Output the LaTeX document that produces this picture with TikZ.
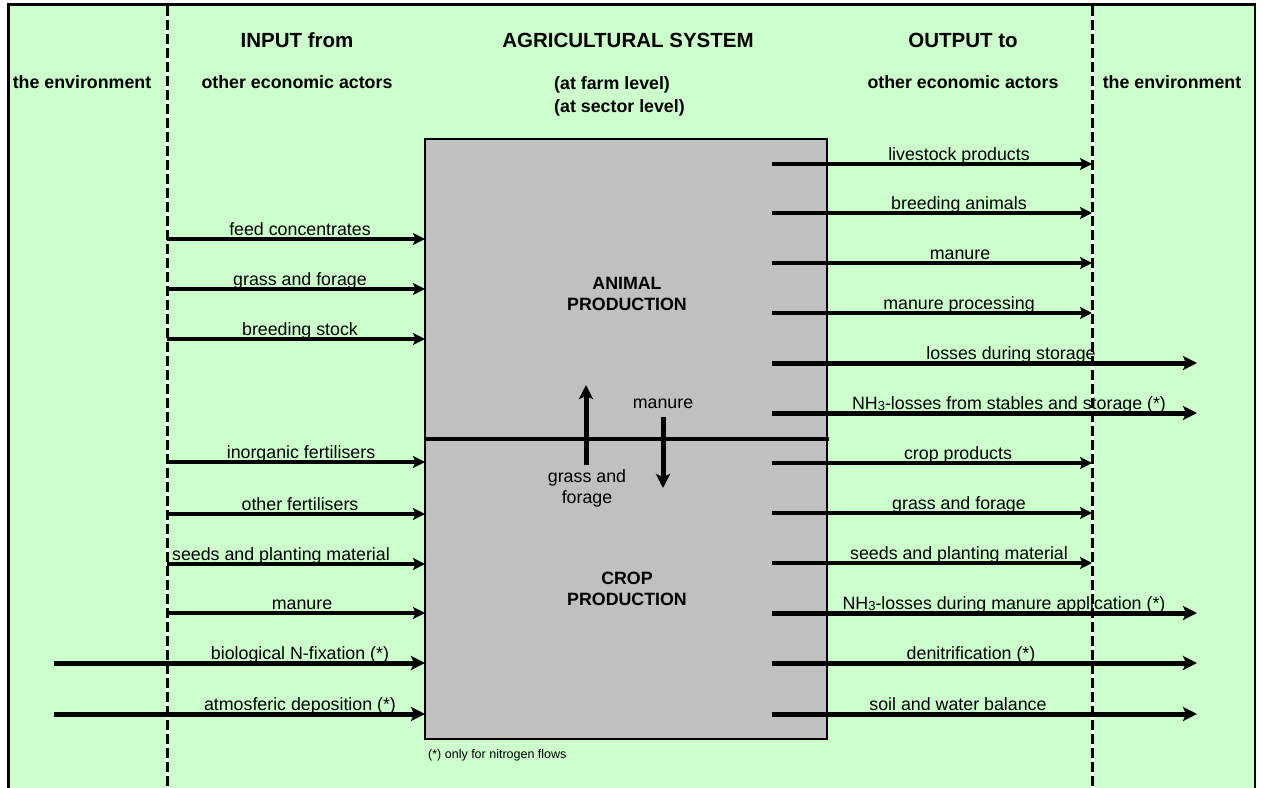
\documentclass[tikz,border=0pt]{standalone}
\usepackage{fontspec}
\setmainfont{Liberation Sans}
\usetikzlibrary{arrows.meta}
\definecolor{bggreen}{HTML}{CCFFCC}
\definecolor{boxgrey}{HTML}{C0C0C0}
\newcommand{\NHthree}{NH\raisebox{-1.5pt}{\fontsize{13}{13}\selectfont 3}}
\tikzset{
  lbl/.style={font=\fontsize{17.8}{20}\selectfont, inner sep=0pt, anchor=base},
  hdr/.style={font=\fontsize{20.5}{24}\selectfont\bfseries, inner sep=0pt},
  sub/.style={font=\fontsize{17.8}{21}\selectfont\bfseries, inner sep=0pt},
  boxlbl/.style={font=\fontsize{17.8}{21}\selectfont\bfseries, inner sep=0pt, align=center},
  note/.style={font=\fontsize{12.5}{14}\selectfont, inner sep=0pt},
  boxst/.style={draw, fill=boxgrey, line width=2.2pt, minimum width=402pt, minimum height=300pt, inner sep=0pt, outer sep=0pt},
  thinarrow/.style={line width=3.3pt, -{Stealth[length=12pt,width=12pt,inset=2.5pt]}},
  thickarrow/.style={line width=5pt, -{Stealth[length=14pt,width=14pt,inset=3pt]}},
}
\begin{document}
\begin{tikzpicture}[x=1pt,y=-1pt]
\useasboundingbox (0,0) rectangle (1263,787);
\clip (0,0) rectangle (1263,787);
\fill[white] (0,0) rectangle (1263,787);
\draw[line width=2.4pt, fill=bggreen] (8.5,4.5) rectangle (1255,800);
% dashed separators
\foreach \x/\n in {167/L,1092/R} {
  \coordinate (d\n t) at (\x,5.5);
  \coordinate (d\n b) at (\x,800);
  \draw[line width=3pt, white] (d\n t) -- (d\n b);
  \draw[line width=3pt, dash pattern=on 10pt off 4pt] (d\n t) -- (d\n b);
}
% headers
\node[hdr] (hin) at (297,40) {INPUT from};
\node[hdr] (hsys) at (628,40) {AGRICULTURAL SYSTEM};
\node[hdr] (hout) at (963,40) {OUTPUT to};
\node[sub] (envL) at (82,82) {the environment};
\node[sub] (ecoL) at (297,82) {other economic actors};
\node[sub] (ecoR) at (963,82) {other economic actors};
\node[sub] (envR) at (1172,82) {the environment};
\node[sub, anchor=west] (farm) at (554,85) {(at farm level)};
\node[sub, anchor=west] (sector) at (554,108) {(at sector level)};
% system boxes
\node[boxst, anchor=north west] (animal) at (425,139) {};
\node[boxst, anchor=north west] (crop) at (425,439) {};
\draw[line width=3.2pt] (animal.south west) -- ([xshift=2pt]animal.south east);
\node[boxlbl] (animallbl) at (627,294) {ANIMAL\\PRODUCTION};
\node[boxlbl] (croplbl) at (627,589) {CROP\\PRODUCTION};
% internal flows
\coordinate (gfs) at (586,465);
\coordinate (gfe) at (586,385);
\draw[thickarrow] (gfs) -- (gfe);
\coordinate (mds) at (663,417);
\coordinate (mde) at (663,488);
\draw[thickarrow] (mds) -- (mde);
\node[lbl, anchor=center, font=\fontsize{17.8}{21}\selectfont] (mlbl) at (663,404) {manure};
\node[lbl, anchor=center, align=center, font=\fontsize{17.8}{21}\selectfont] (gflbl) at (587,488) {grass and\\forage};
% inputs from other economic actors
\foreach \i/\y/\t/\tg/\cx in {1/239/feed concentrates/animal/300,
    2/289/grass and forage/animal/300,
    3/339/breeding stock/animal/300,
    4/462/inorganic fertilisers/crop/301,
    5/514/other fertilisers/crop/300,
    6/564/seeds and planting material/crop/281,
    7/613/manure/crop/302} {
  \coordinate (is\i) at (167,\y);
  \draw[thinarrow] (is\i) -- (is\i -| \tg.west);
  \node[lbl] (il\i) at (\cx,\y-4) {\t};
}
% inputs from the environment
\foreach \i/\y/\t/\cx in {8/663/biological N-fixation (*)/300,
    9/714/atmosferic deposition (*)/300} {
  \coordinate (is\i) at (54,\y);
  \draw[thickarrow] (is\i) -- (is\i -| crop.west);
  \node[lbl] (il\i) at (\cx,\y-4) {\t};
}
% outputs to other economic actors
\foreach \i/\y/\t/\cx in {1/164/livestock products/959,
    2/213/breeding animals/959,
    3/263/manure/960,
    4/313/manure processing/959,
    7/463/crop products/958,
    8/513/grass and forage/959,
    9/563/seeds and planting material/959} {
  \coordinate (os\i) at (772,\y);
  \coordinate (oe\i) at (1092,\y);
  \draw[thinarrow] (os\i) -- (oe\i);
  \node[lbl] (ol\i) at (\cx,\y-4) {\t};
}
% outputs to the environment
\foreach \i/\y/\t/\cx in {5/363/losses during storage/1011,
    6/413/\NHthree-losses from stables and storage (*)/1009,
    10/613/\NHthree-losses during manure application (*)/1004,
    11/663/denitrification (*)/971,
    12/714/soil and water balance/958} {
  \coordinate (os\i) at (772,\y);
  \coordinate (oe\i) at (1197,\y);
  \draw[thickarrow] (os\i) -- (oe\i);
  \node[lbl] (ol\i) at (\cx,\y-4) {\t};
}
\node[note, anchor=west] (foot) at (428,755) {(*) only for nitrogen flows};
\end{tikzpicture}
\end{document}
